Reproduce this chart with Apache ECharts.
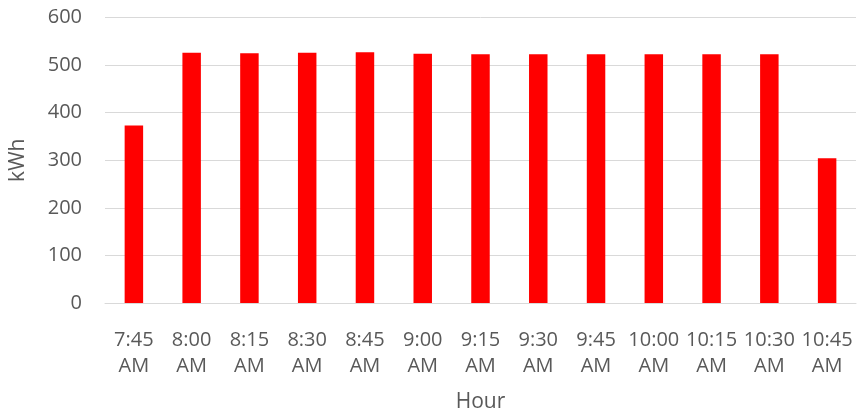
<!DOCTYPE html>
<html>
<head>
<meta charset="utf-8">
<script src="https://cdn.jsdelivr.net/npm/echarts@6/dist/echarts.min.js"></script>
<style>
html,body{margin:0;padding:0;background:#fff;}
#chart{width:858px;height:418px;}
</style>
</head>
<body>
<div id="chart"></div>
<script>
const categories = ['7:45\nAM','8:00\nAM','8:15\nAM','8:30\nAM','8:45\nAM','9:00\nAM','9:15\nAM','9:30\nAM','9:45\nAM','10:00\nAM','10:15\nAM','10:30\nAM','10:45\nAM'];
const kwh = [373, 526, 525, 526, 527, 524, 523, 523, 523, 523, 523, 523, 304];
const yTicks = { min: 0, max: 600, interval: 100 };

const FONT = 'Open Sans';
const TXT = '#595959';
const chart = echarts.init(document.getElementById('chart'));
chart.setOption({
  animation: false,
  grid: { left: 105, right: 2, top: 17.5, bottom: 115, containLabel: false },
  xAxis: {
    type: 'category',
    data: categories,
    name: 'Hour',
    nameLocation: 'middle',
    nameGap: 89,
    nameTextStyle: { color: TXT, fontFamily: FONT, fontSize: 21 },
    axisLine: { lineStyle: { color: '#d9d9d9', width: 1 } },
    axisTick: { show: false },
    axisLabel: { interval: 0, color: TXT, fontFamily: FONT, fontSize: 20, lineHeight: 26, margin: 24 }
  },
  yAxis: {
    type: 'value',
    min: yTicks.min, max: yTicks.max, interval: yTicks.interval,
    name: 'kWh',
    nameLocation: 'middle',
    nameGap: 76,
    nameTextStyle: { color: TXT, fontFamily: FONT, fontSize: 21 },
    axisLine: { show: false },
    axisTick: { show: false },
    splitLine: { lineStyle: { color: '#d9d9d9', width: 1 } },
    axisLabel: { color: TXT, fontFamily: FONT, fontSize: 20, margin: 23 }
  },
  series: [{
    type: 'bar',
    data: kwh,
    barWidth: '32%',
    itemStyle: { color: '#ff0000' }
  }]
});
</script>
</body>
</html>
